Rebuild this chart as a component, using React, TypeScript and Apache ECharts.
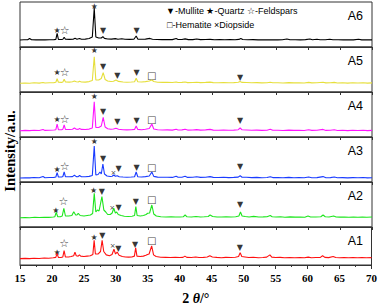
import React, { useEffect, useRef } from "react";
import * as echarts from "echarts";

// 2θ range and tick labels
const xMin = 15;
const xMax = 70;
const xStep = 5;

const sampleNames = ["A6", "A5", "A4", "A3", "A2", "A1"];
const sampleColors = ["#000000", "#e6df3c", "#ff14ff", "#1a3cff", "#1ee61e", "#ff1010"];

// patterns: [2θ, intensity] (arbitrary units, per panel)
const a6Pattern = [[15,7],[15.6,7.2],[16.2,7.3],[16.5,8.5],[16.8,7.2],[17.5,7.1],[18.2,7.3],[18.9,7.1],[19.6,7.3],[20.3,7.4],[20.6,7.6],[20.8,13.7],[21.0,7.6],[21.5,7.5],[21.7,7.8],[21.9,9.7],[22.1,7.7],[22.7,7.6],[23.3,7.8],[23.6,8.7],[23.9,7.8],[24.3,8.6],[24.6,7.8],[25.2,7.9],[25.8,8.5],[26.3,10],[26.6,39],[26.85,10],[27.3,9],[27.7,9],[27.95,10.3],[28.2,8.6],[28.7,8],[29.3,7.9],[29.9,8.4],[30.3,7.8],[30.9,8.3],[31.4,7.7],[32.1,7.6],[32.8,7.8],[33.15,11],[33.4,7.9],[34,7.7],[34.6,7.9],[35.3,8.6],[35.7,7.8],[36.4,7.5],[37.2,7.4],[38,7.5],[38.8,7.4],[39.4,8.5],[39.7,7.5],[40.3,7.5],[40.8,8.1],[41.3,7.4],[42,7.4],[42.6,8],[43.2,7.4],[44,7.5],[44.7,7.6],[45.4,7.3],[46.2,7.4],[47,7.2],[47.8,7.4],[48.6,7.2],[49.2,7.6],[49.5,8.5],[49.8,7.5],[50.6,7.3],[51.4,7.4],[52.2,7.1],[53,7.3],[53.8,7.1],[54.5,7.3],[55.3,7.1],[56,7.3],[56.7,8],[57.2,7.2],[58,7.3],[58.8,7.1],[59.6,7.4],[60.3,8],[60.7,7.3],[61.4,7.8],[61.9,7.2],[62.7,7.3],[63.4,7.8],[63.9,7.2],[64.7,7.3],[65.5,7.1],[66.3,7.3],[67.1,7.1],[67.9,7.7],[68.4,7.1],[69.2,7.2],[70,7.1]];

const a5Pattern = [[15,8.7],[15.8,9],[16.5,8.8],[17.2,9.2],[18,8.9],[18.6,9.5],[18.9,9],[19.6,9.2],[20.3,9.4],[20.6,9.7],[20.8,13.3],[21.0,9.7],[21.5,9.6],[21.7,10],[21.9,12.7],[22.1,10],[22.7,9.9],[23.2,10.2],[23.5,11],[23.8,10.2],[24.1,10],[24.3,10.7],[24.6,10],[25.2,9.9],[25.8,10.4],[26.3,11.5],[26.6,35.3],[26.85,12],[27.3,12],[27.7,13.5],[28.0,19.3],[28.3,12.5],[28.7,11],[29.2,10.5],[29.6,10.8],[30.0,12],[30.4,10.6],[31.1,10],[31.7,9.8],[32.4,10],[32.9,10.3],[33.15,13.7],[33.4,10.3],[34,10],[34.6,10.4],[35.2,11],[35.6,12],[35.9,10.5],[36.5,9.8],[37.3,9.6],[38,9.7],[38.8,9.5],[39.4,10],[39.7,9.5],[40.3,9.6],[40.8,10],[41.2,9.4],[42,9.5],[42.6,9.8],[43.2,9.4],[44,9.6],[44.7,9.9],[45.2,9.4],[46,9.3],[46.8,9.5],[47.6,9.2],[48.4,9.4],[49.1,9.7],[49.4,10.5],[49.7,9.6],[50.4,9.5],[51.2,9.2],[52,9.4],[52.8,9.1],[53.6,9.3],[54.1,9.8],[54.5,9.2],[55.3,9.3],[56.1,9],[57,9.4],[57.8,9.1],[58.6,9.3],[59.4,9],[60.1,9.6],[60.6,9.1],[61.4,9.2],[62.35,9.8],[62.8,9.1],[63.5,9.2],[64.1,9.6],[64.6,9],[65.4,9.2],[66.2,8.9],[67,9.2],[67.8,9],[68.6,9.3],[69.3,8.9],[70,9.1]];

const a4Pattern = [[15,6.3],[15.8,6.6],[16.5,6.4],[17.2,6.8],[18,6.5],[18.6,7.5],[18.9,6.6],[19.6,6.8],[20.3,7],[20.6,7.3],[20.8,13],[21.0,7.3],[21.5,7.3],[21.7,7.8],[21.9,12],[22.1,7.6],[22.7,7.5],[23.2,7.8],[23.5,9],[23.8,7.8],[24.1,7.6],[24.3,8.5],[24.6,7.6],[25.2,7.5],[25.8,7.9],[26.3,9],[26.6,35.3],[26.85,9.5],[27.3,9.5],[27.7,11],[28.0,19.7],[28.3,10],[28.7,8.3],[29.2,7.8],[29.6,8],[30.0,8.7],[30.4,7.8],[31.1,7.3],[31.7,7.1],[32.4,7.3],[32.9,7.6],[33.15,11],[33.4,7.6],[34,7.3],[34.6,7.7],[35.2,8.5],[35.6,13],[35.9,8],[36.5,7.2],[37.3,7],[38,7.1],[38.8,6.9],[39.4,7.8],[39.7,7],[40.3,7.1],[40.8,7.8],[41.2,6.9],[42,7],[42.6,7.4],[43.2,6.9],[44,7.1],[44.7,7.6],[45.2,6.9],[46,6.8],[46.8,7],[47.6,6.7],[48.4,6.9],[49.1,7.3],[49.4,9],[49.7,7.2],[50.4,7],[51.2,6.7],[52,6.9],[52.8,6.6],[53.6,6.8],[54.1,7.8],[54.5,6.7],[55.3,6.8],[56.1,6.5],[57,6.9],[57.8,6.6],[58.6,6.8],[59.4,6.5],[60.1,7.3],[60.6,6.6],[61.4,6.7],[62.35,7.6],[62.8,6.6],[63.5,6.7],[64.1,7.2],[64.6,6.5],[65.4,6.7],[66.2,6.4],[67,6.7],[67.8,6.5],[68.6,6.8],[69.3,6.4],[70,6.6]];

const a3Pattern = [[15,4],[15.8,4.3],[16.5,4.1],[17.2,4.5],[18,4.2],[18.6,5.5],[18.9,4.3],[19.6,4.5],[20.3,4.6],[20.6,5],[20.8,9.3],[21.0,5],[21.5,5],[21.7,5.5],[21.9,10],[22.1,5.3],[22.7,5.2],[23.2,5.4],[23.5,6.8],[23.8,5.4],[24.1,5.3],[24.3,6.5],[24.6,5.3],[25.2,5.2],[25.8,5.6],[26.3,6.5],[26.6,36],[26.85,7],[27.2,7.5],[27.5,10],[27.7,8],[27.95,18],[28.2,8],[28.6,6],[29.1,5.5],[29.4,5.8],[29.65,7],[29.9,5.8],[30.2,6.3],[30.5,5.3],[31.1,5],[31.7,4.8],[32.4,5],[32.9,5.3],[33.15,10],[33.4,5.3],[34,5],[34.6,5.4],[35.2,6],[35.6,10],[35.9,5.6],[36.5,4.9],[37.3,4.7],[38,4.8],[38.8,4.6],[39.4,5.8],[39.7,4.7],[40.3,4.8],[40.8,5.8],[41.2,4.6],[42,4.7],[42.6,5.2],[43.2,4.6],[44,4.8],[44.7,5.4],[45.2,4.6],[46,4.5],[46.8,4.7],[47.6,4.4],[48.4,4.6],[49.1,4.9],[49.4,6.3],[49.7,4.8],[50.4,4.7],[51.2,4.4],[52,4.6],[52.8,4.3],[53.6,4.5],[54.1,5.3],[54.5,4.4],[55.3,4.5],[56.1,4.2],[57,4.6],[57.8,4.3],[58.6,4.5],[59.4,4.2],[60.1,5],[60.6,4.3],[61.4,4.4],[62.35,5.4],[62.8,4.3],[63.5,4.4],[64.1,5],[64.6,4.2],[65.4,4.4],[66.2,4.1],[67,4.4],[67.8,4.2],[68.6,4.5],[69.3,4.1],[70,4.3]];

const a2Pattern = [[15,9.3],[15.8,9.5],[16.5,9.3],[17.3,9.8],[18,9.5],[18.8,9.8],[19.5,9.6],[20.2,10],[20.45,10.3],[20.65,14.7],[20.9,10.3],[21.3,10.2],[21.6,11],[21.85,18.7],[22.1,11],[22.6,11],[23.1,11.5],[23.4,15.3],[23.7,12],[23.9,12],[24.1,13.7],[24.4,11.5],[25,11],[25.5,11.5],[26,12],[26.35,13.5],[26.6,33.7],[26.85,15],[27.1,17],[27.35,16],[27.8,30.3],[28.1,17],[28.4,15],[28.7,12.5],[29.1,12.5],[29.4,14],[29.65,18.7],[29.9,14],[30.1,15],[30.35,12.5],[30.8,11.5],[31.3,10.8],[31.9,10.5],[32.5,10.8],[32.9,11.5],[33.1,20.3],[33.3,11.5],[33.8,11],[34.3,11.5],[34.7,12.5],[34.95,13.7],[35.25,14],[35.6,22],[35.9,13],[36.3,11],[37,10.3],[37.8,10],[38.6,10.2],[39.3,10],[40,10],[40.5,10.2],[40.8,12],[41.1,10.2],[41.8,10],[42.5,10.5],[43.2,10],[43.8,10.2],[44.4,10.5],[44.7,12],[45.1,10.5],[45.8,10],[46.5,10],[47.2,10.2],[48,10],[48.7,10.2],[49.2,11],[49.45,15],[49.7,11],[50.2,10.5],[50.8,10],[51.5,10.6],[52.3,10],[53,10.1],[53.6,10.3],[54.1,11.5],[54.4,10.3],[55,10],[55.7,10.2],[56.4,9.8],[57.2,10.1],[58,9.9],[58.8,10],[59.5,9.8],[60,11],[60.4,10],[61.2,10],[62,10.3],[62.35,12],[62.7,10.2],[63.3,10],[64,11],[64.4,10],[65,9.9],[65.7,10],[66.4,9.8],[67.1,10],[67.8,9.8],[68.5,10],[69.2,9.8],[70,10]];

const a1Pattern = [[15,7.5],[15.8,7.8],[16.5,7.6],[17.2,8],[18,7.7],[18.8,8.3],[19.5,8],[20.2,8.5],[20.6,9],[20.8,13.7],[21.0,9],[21.4,8.8],[21.7,9.5],[21.9,17],[22.1,9.5],[22.6,9.5],[23.0,10],[23.4,11],[23.6,15.3],[23.8,11],[24.1,10.5],[24.3,12],[24.5,10.5],[25,10],[25.5,10.5],[26,11],[26.4,12.5],[26.6,29.3],[26.8,13],[27.2,13],[27.6,16],[27.85,29.3],[28.1,16],[28.5,12],[29,11],[29.4,12.5],[29.7,18.7],[29.95,13],[30.2,15.3],[30.5,11.5],[31,10],[31.5,9.5],[32,9.3],[32.5,9.5],[32.9,10.5],[33.1,20.3],[33.3,10.5],[33.8,10],[34.3,10.5],[34.7,11.5],[34.95,12.5],[35.2,13],[35.6,22.7],[35.9,12],[36.3,10],[37,9.2],[37.8,9],[38.5,8.8],[39.3,9],[40,8.8],[40.5,9],[40.8,10.5],[41.1,9],[41.8,8.8],[42.5,9.5],[43,8.8],[43.7,9],[44.3,9.5],[44.7,11],[45.1,9.5],[45.8,9],[46.5,8.6],[47.2,9],[48,8.8],[48.7,9.2],[49.2,10],[49.45,14.7],[49.7,10],[50.2,9.5],[50.8,8.8],[51.5,9.2],[52.3,8.6],[53,8.8],[53.6,9.3],[54.1,12],[54.4,9.3],[55,8.8],[55.7,9],[56.4,8.5],[57.2,8.8],[58,8.6],[58.8,8.8],[59.5,8.5],[60.1,9.3],[60.6,8.6],[61.3,8.8],[62,9],[62.35,11],[62.7,9],[63.3,8.7],[64,10],[64.4,8.8],[65,8.6],[65.7,8.9],[66.4,8.5],[67.1,8.8],[67.8,8.6],[68.5,8.8],[69.2,8.5],[70,8.7]];

// phase markers: [2θ, height, glyph]
const a6Marks = [[20.8,17,"★"],[22.0,17,"☆"],[26.6,41,"★"],[28.0,17,"▼"],[33.2,16.3,"▼"]];
const a5Marks = [[20.8,19.3,"★"],[22.0,19.3,"☆"],[26.6,42,"★"],[28.0,25.3,"▼"],[30.2,17,"▼"],[33.2,19.3,"▼"],[35.6,16.7,"□"],[49.4,14.7,"▼"]];
const a4Marks = [[20.8,18,"★"],[22.0,18,"☆"],[26.6,40.3,"★"],[28.0,25.3,"▼"],[30.2,16,"▼"],[33.2,17,"▼"],[35.6,18,"□"],[49.4,17,"▼"]];
const a3Marks = [[20.8,13,"★"],[22.0,16,"☆"],[26.6,40.3,"★"],[28.0,24,"▼"],[29.6,9.3,"×"],[30.4,14,"▼"],[33.2,14.3,"▼"],[35.6,15,"□"],[49.4,15.3,"▼"]];
const a2Marks = [[20.6,16.3,"★"],[21.8,26,"☆"],[26.5,37,"★"],[27.8,35.3,"▼"],[29.4,19.3,"×"],[30.4,19.7,"▼"],[33.1,25.3,"▼"],[35.6,27.7,"□"],[49.4,23,"▼"]];
const a1Marks = [[20.8,15,"★"],[21.9,25.3,"☆"],[26.6,32.7,"★"],[27.9,34.7,"▼"],[29.5,22,"×"],[30.4,20,"▼"],[33.0,24.3,"▼"],[35.6,28.7,"□"],[49.4,20.3,"▼"]];

const legendLine1 = "▼-Mullite ★-Quartz ☆-Feldspars";
const legendLine2 = "□-Hematite ×Diopside";
const yTitle = "Intensity/a.u.";

const patterns = [a6Pattern, a5Pattern, a4Pattern, a3Pattern, a2Pattern, a1Pattern];
const marks = [a6Marks, a5Marks, a4Marks, a3Marks, a2Marks, a1Marks];

const glyphSize: Record<string, number> = { "★": 8, "☆": 11, "▼": 8, "□": 10, "×": 7 };

export default function App() {
  const ref = useRef<HTMLDivElement>(null);
  useEffect(() => {
    if (!ref.current) return;
    const chart = echarts.init(ref.current, null, { renderer: "svg" });
    const L = 20, R = 8, T = 2, H = 45;
    const n = sampleNames.length;
    const grids: any[] = [];
    const xAxes: any[] = [];
    const yAxes: any[] = [];
    const series: any[] = [];
    const graphics: any[] = [];
    for (let i = 0; i < n; i++) {
      const last = i === n - 1;
      grids.push({ left: L, right: R, top: T + i * H, height: H, show: true, borderColor: "#333", borderWidth: 1, backgroundColor: "transparent" });
      xAxes.push({
        gridIndex: i, type: "value", min: xMin, max: xMax, interval: xStep,
        axisLine: { show: true, lineStyle: { color: "#333", width: 1 } },
        axisTick: { show: true, inside: false, length: last ? 4 : 3, lineStyle: { color: "#333" } },
        minorTick: { show: last, splitNumber: 2, length: 2, lineStyle: { color: "#333" } },
        splitLine: { show: false },
        axisLabel: { show: last, margin: 7, color: "#000", fontFamily: "Liberation Serif", fontWeight: "bold", fontSize: 11 },
        ...(last ? {
          name: "{a|2 }{b|θ}{a|/°}", nameLocation: "middle", nameGap: 26,
          nameTextStyle: { rich: {
            a: { fontFamily: "Liberation Serif", fontWeight: "bold", fontSize: 14, color: "#000" },
            b: { fontFamily: "Liberation Serif", fontWeight: "bold", fontStyle: "italic", fontSize: 14, color: "#000" },
          } },
        } : {}),
      });
      yAxes.push({ gridIndex: i, type: "value", min: 0, max: H, show: false });
      series.push({
        type: "line", xAxisIndex: i, yAxisIndex: i, data: patterns[i], symbol: "none",
        lineStyle: { color: sampleColors[i], width: 1.1 }, itemStyle: { color: sampleColors[i] }, silent: true,
      });
      series.push({
        type: "scatter", xAxisIndex: i, yAxisIndex: i, symbolSize: 0, itemStyle: { color: "rgba(0,0,0,0)" }, silent: true,
        data: marks[i].map((m) => ({
          value: [m[0], m[1]], name: m[2],
          label: { show: true, position: "inside", formatter: "{b}", color: "#000", fontSize: glyphSize[m[2] as string], fontFamily: "DejaVu Sans" },
        })),
      });
      graphics.push({
        type: "text", right: 380 - 363, top: T + i * H + 7,
        style: { text: sampleNames[i], fontFamily: "Liberation Sans", fontSize: 12.5, fill: "#000" },
      });
    }
    graphics.push({ type: "text", left: 166, top: 6, style: { text: legendLine1, fontFamily: "Liberation Sans", fontSize: 9, fill: "#000" } });
    graphics.push({ type: "text", left: 167, top: 20, style: { text: legendLine2, fontFamily: "Liberation Sans", fontSize: 9, fill: "#000" } });
    graphics.push({
      type: "text", x: 10, y: 151, rotation: Math.PI / 2,
      style: { text: yTitle, fontFamily: "Liberation Serif", fontWeight: "bold", fontSize: 14.5, fill: "#000", align: "center", verticalAlign: "middle" },
    });
    chart.setOption({
      animation: false,
      backgroundColor: "#fff",
      grid: grids, xAxis: xAxes, yAxis: yAxes, series, graphic: graphics,
    });
    return () => chart.dispose();
  }, []);
  return <div ref={ref} style={{ position: "fixed", left: 0, top: 0, width: 380, height: 306 }} />;
}
